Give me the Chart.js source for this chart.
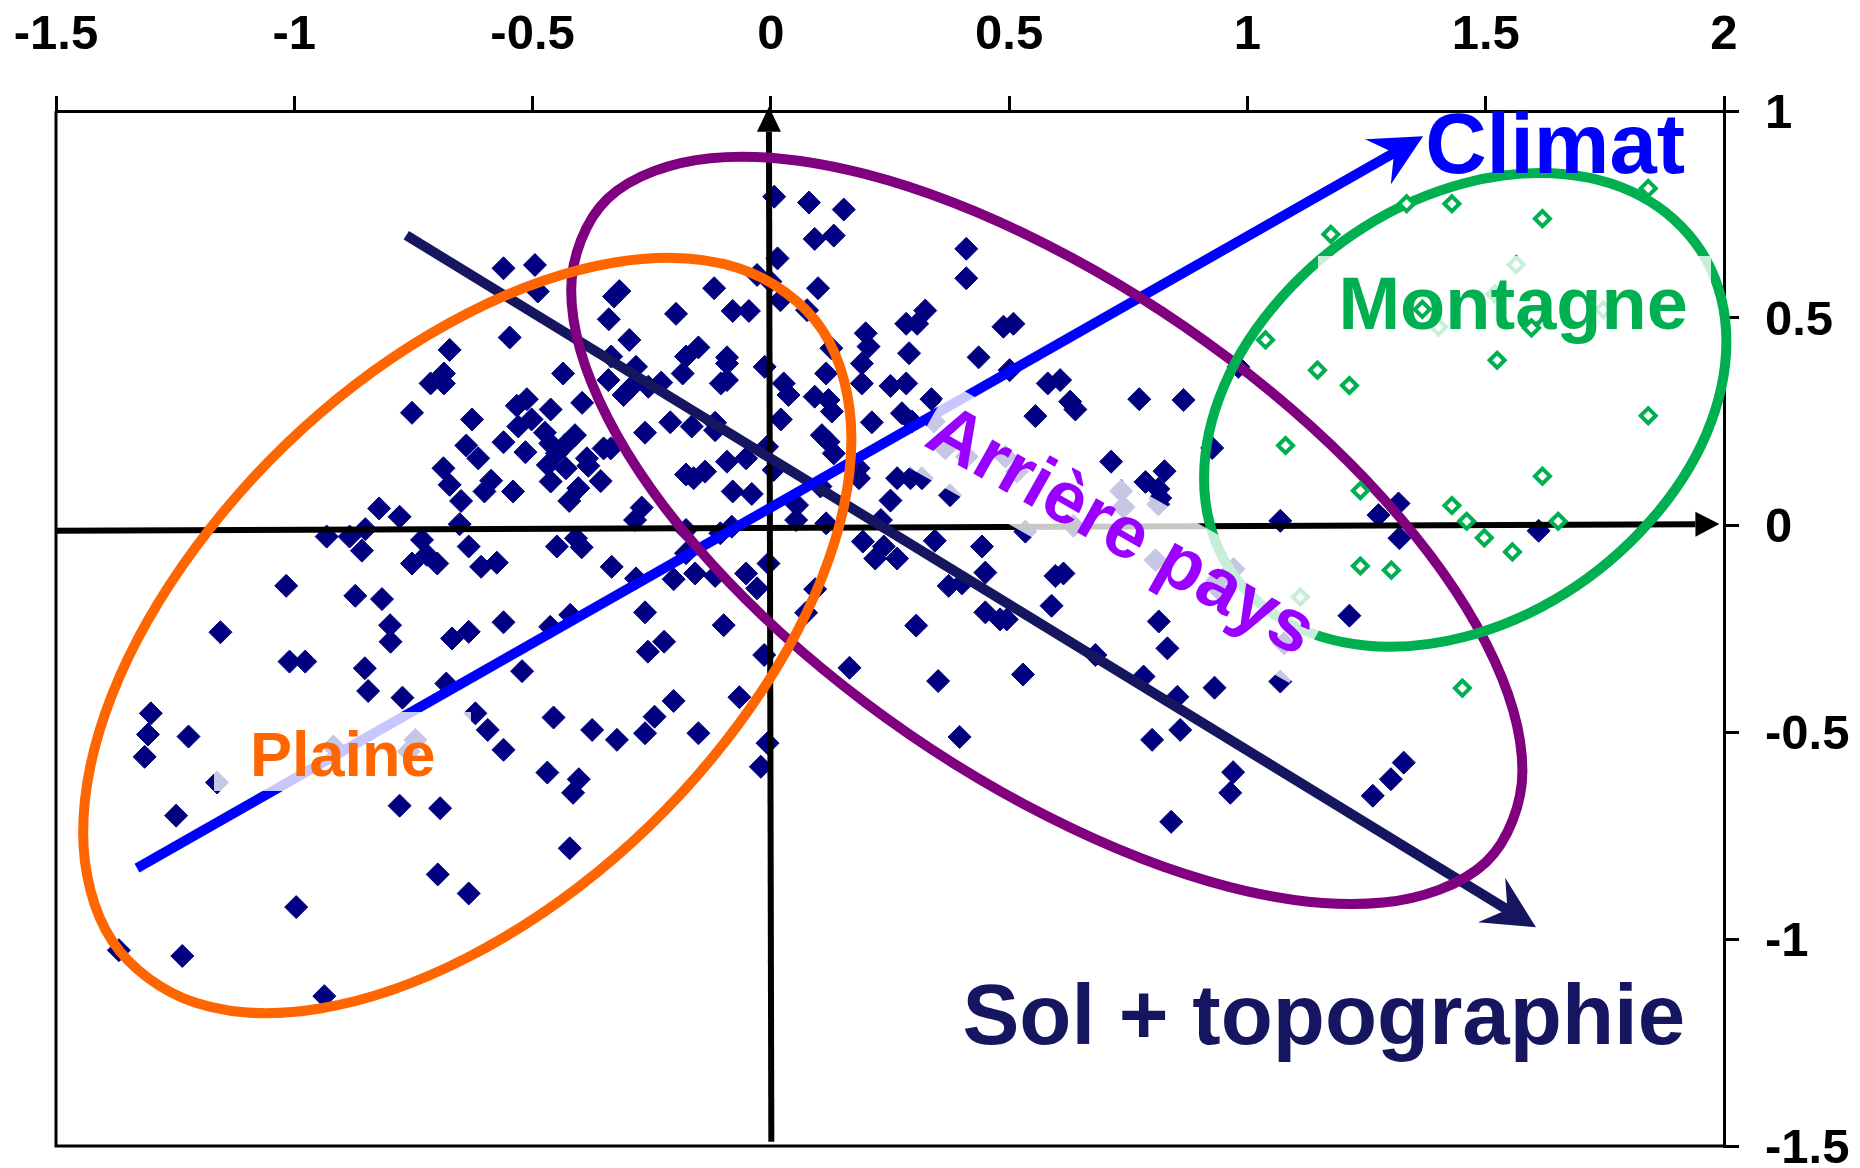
<!DOCTYPE html>
<html>
<head>
<meta charset="utf-8">
<title>Climat / Sol + topographie</title>
<script src="https://cdn.jsdelivr.net/npm/chart.js@4"></script>
<style>
    body { margin: 0; background: #fff; }
    canvas { display: block; }
</style>
</head>
<body>
<canvas id="chart" width="1860" height="1168"></canvas>
<script>
// Axis ticks
const xTicks = [-1.5, -1, -0.5, 0, 0.5, 1, 1.5, 2];
const yTicks = [1, 0.5, 0, -0.5, -1, -1.5];

// Sites (navy diamonds), [axis 1, axis 2]
const sites = [
    [-0.561,0.620],[-0.495,0.628],[-0.489,0.564],[-0.548,0.453],[-0.674,0.423],[-0.686,0.366],[-0.714,0.342],[-0.686,0.342],
    [-0.753,0.271],[-0.627,0.255],[-0.639,0.192],[-0.614,0.161],[-0.687,0.137],[-0.674,0.097],[-0.587,0.107],[-0.601,0.081],
    [-0.541,0.081],[-0.650,0.058],[-0.822,0.040],[-0.779,0.020],[-0.653,0.002],[-0.533,0.288],[-0.512,0.304],[-0.462,0.279],
    [-0.396,0.295],[-0.502,0.255],[-0.530,0.238],[-0.561,0.200],[-0.515,0.176],[-0.474,0.223],[-0.411,0.217],[-0.463,0.197],
    [-0.432,0.193],[-0.449,0.173],[-0.468,0.145],[-0.430,0.137],[-0.462,0.105],[-0.386,0.161],[-0.383,0.143],[-0.357,0.106],
    [-0.404,0.089],[-0.423,0.058],[-0.351,0.185],[-0.336,0.185],[-0.264,0.223],[-0.436,0.366],[-0.341,0.350],[-0.335,0.407],
    [-0.297,0.447],[-0.340,0.497],[-0.329,0.552],[-0.318,0.565],[-0.199,0.510],[-0.119,0.572],[-0.080,0.517],[-0.046,0.517],
    [-0.029,0.604],[-0.283,0.382],[-0.309,0.314],[-0.292,0.334],[-0.257,0.334],[-0.230,0.344],[-0.152,0.429],[-0.178,0.407],
    [-0.185,0.366],[-0.092,0.405],[-0.092,0.390],[-0.105,0.342],[-0.092,0.350],[-0.013,0.382],[-0.211,0.248],[-0.166,0.238],
    [-0.117,0.247],[-0.117,0.229],[-0.092,0.153],[-0.052,0.161],[-0.008,0.189],[0.006,0.133],[-0.178,0.122],[-0.162,0.113],
    [-0.138,0.129],[-0.080,0.081],[-0.040,0.075],[-0.271,0.042],[-0.285,0.012],[-0.178,-0.012],[-0.106,-0.020],[-0.082,-0.004],
    [-0.732,-0.036],[-0.722,-0.072],[-0.753,-0.093],[-0.700,-0.093],[-0.634,-0.052],[-0.608,-0.101],[-0.575,-0.091],[-0.449,-0.052],
    [-0.409,-0.032],[-0.397,-0.054],[-0.334,-0.101],[-0.178,-0.068],[-0.283,-0.129],[-0.204,-0.131],[-0.159,-0.117],[-0.117,-0.123],
    [-0.052,-0.117],[-0.029,-0.153],[-0.005,-0.093],[-0.264,-0.211],[-0.099,-0.242],[-0.421,-0.217],[-0.463,-0.246],[-0.561,-0.235],
    [-0.634,-0.258],[-0.669,-0.274],[-0.799,-0.242],[-0.816,-0.179],[-0.224,-0.282],[-0.258,-0.306],[-0.522,-0.353],[-0.681,-0.383],
    [-0.014,-0.314],[0.093,-0.155],[0.074,-0.212],[-0.620,-0.455],[-0.594,-0.495],[-0.561,-0.543],[-0.456,-0.465],[-0.375,-0.495],
    [-0.323,-0.519],[-0.264,-0.503],[-0.244,-0.463],[-0.204,-0.425],[-0.152,-0.503],[-0.066,-0.416],[-0.007,-0.527],[-0.021,-0.584],
    [-0.469,-0.598],[-0.403,-0.614],[-0.415,-0.647],[-0.422,-0.781],[-0.694,-0.684],[-0.699,-0.844],[-0.634,-0.890],[-0.851,-0.010],
    [-0.932,-0.028],[-0.884,-0.028],[-0.858,-0.062],[-1.017,-0.147],[-0.872,-0.171],[-0.798,-0.282],[-0.852,-0.346],[-0.845,-0.401],
    [-0.773,-0.417],[-1.155,-0.259],[-1.010,-0.330],[-0.977,-0.330],[-1.301,-0.455],[-1.307,-0.506],[-1.222,-0.511],[-1.314,-0.560],
    [-1.162,-0.622],[-1.248,-0.702],[-0.918,-0.535],[-0.746,-0.519],[-0.760,-0.547],[-0.779,-0.678],[-0.996,-0.923],[-1.368,-1.027],
    [-1.235,-1.041],[-0.937,-1.138],[0.007,0.793],[0.080,0.779],[0.153,0.762],[0.092,0.691],[0.132,0.699],[0.014,0.644],
    [0.410,0.667],[0.410,0.596],[0.099,0.572],[-0.001,0.588],[0.020,0.543],[0.076,0.519],[0.199,0.463],[0.205,0.431],
    [0.127,0.427],[0.191,0.390],[0.191,0.342],[0.116,0.366],[0.290,0.415],[0.284,0.486],[0.307,0.486],[0.324,0.518],
    [0.488,0.479],[0.509,0.486],[0.436,0.405],[0.501,0.374],[0.251,0.336],[0.284,0.342],[0.337,0.304],[0.027,0.342],
    [0.037,0.314],[0.021,0.255],[0.092,0.310],[0.121,0.302],[0.128,0.274],[0.212,0.248],[0.275,0.270],[0.296,0.250],
    [0.342,0.250],[0.366,0.185],[0.411,0.165],[0.492,0.165],[0.516,0.129],[0.555,0.263],[0.581,0.342],[0.607,0.350],
    [0.628,0.298],[0.639,0.279],[0.773,0.304],[0.866,0.302],[0.107,0.217],[0.121,0.201],[0.132,0.173],[0.184,0.137],
    [0.185,0.113],[0.265,0.113],[0.293,0.113],[0.317,0.113],[0.376,0.072],[0.251,0.059],[0.104,0.093],[0.055,0.048],
    [0.053,0.012],[0.116,0.004],[0.231,0.012],[0.193,-0.040],[0.219,-0.081],[0.237,-0.052],[0.344,-0.038],[0.443,-0.052],
    [0.534,-0.016],[0.265,-0.081],[0.714,0.153],[0.786,0.104],[0.826,0.130],[0.813,0.087],[0.817,0.065],[0.735,0.082],
    [0.740,0.043],[0.813,0.050],[0.926,0.186],[0.981,0.382],[0.807,-0.085],[0.971,-0.106],[0.635,-0.002],[0.373,-0.147],
    [0.401,-0.141],[0.450,-0.115],[0.597,-0.123],[0.614,-0.117],[0.589,-0.195],[0.450,-0.211],[0.481,-0.228],[0.495,-0.228],
    [0.305,-0.243],[0.165,-0.345],[0.351,-0.377],[0.529,-0.361],[0.681,-0.314],[0.782,-0.366],[0.396,-0.512],[0.800,-0.519],
    [0.814,-0.233],[0.832,-0.298],[0.853,-0.415],[0.931,-0.393],[1.069,-0.378],[0.859,-0.495],[0.970,-0.597],[0.964,-0.647],
    [0.840,-0.717],[1.263,-0.654],[1.301,-0.614],[1.328,-0.574],[1.214,-0.219],[1.069,0.010],[1.275,0.024],[1.317,0.052],
    [1.319,-0.032],[1.611,-0.014],[1.077,-0.286],[0.937,-0.133],[0.941,-0.157]
];

// Mountain sites (open green diamonds)
const montagneSites = [
    [1.175,0.702],[1.334,0.776],[1.429,0.776],[1.619,0.740],[1.841,0.813],[1.564,0.629],[1.401,0.478],[1.747,0.520],
    [1.519,0.558],[1.524,0.398],[1.038,0.447],[1.147,0.374],[1.214,0.337],[1.841,0.264],[1.080,0.192],[1.619,0.118],
    [1.237,0.083],[1.429,0.047],[1.460,0.009],[1.497,-0.031],[1.556,-0.065],[1.652,0.009],[1.237,-0.099],[1.302,-0.109],
    [1.111,-0.174],[1.451,-0.394]
];
// These two sit in front of the "Montagne" label
const montagneFront = [[1.367,0.521],[1.596,0.476]];

// Group outlines, read around each ellipse
const plaineOutline = [
    [0.169,0.209],[0.108,0.471],[-0.067,0.620],[-0.328,0.634],[-0.637,0.511],[-0.946,0.270],[-1.207,-0.054],[-1.382,-0.409],
    [-1.443,-0.743],[-1.382,-1.005],[-1.207,-1.154],[-0.946,-1.168],[-0.637,-1.045],[-0.328,-0.804],[-0.067,-0.480],[0.108,-0.125]
];
const arrierePaysOutline = [
    [1.577,-0.594],[1.501,-0.286],[1.285,0.064],[0.961,0.402],[0.579,0.677],[0.197,0.848],[-0.127,0.886],[-0.343,0.788],
    [-0.419,0.568],[-0.343,0.260],[-0.127,-0.090],[0.197,-0.428],[0.579,-0.703],[0.961,-0.874],[1.285,-0.912],[1.501,-0.814]
];
const montagneOutline = [
    [2.005,0.443],[1.963,0.640],[1.844,0.782],[1.667,0.847],[1.457,0.826],[1.247,0.721],[1.070,0.548],[0.951,0.336],
    [0.909,0.113],[0.951,-0.084],[1.070,-0.226],[1.247,-0.291],[1.457,-0.270],[1.667,-0.165],[1.844,0.008],[1.963,0.220]
];

// Factor arrows and drawn axes (start, end of shaft)
const climatArrow = [[-1.33,-0.829],[1.303,0.896]];
const solArrow = [[-0.765,0.700],[1.541,-0.926]];
const axisH = [[-1.5,-0.014],[1.94,0.002]];
const axisV = [[0.001,-1.49],[-0.004,0.95]];

// Labels: text and anchor in axis units
const labelTexts = ['Climat', 'Montagne', 'Plaine', 'Sol + topographie', 'Arrière pays'];
const labelX = [1.373, 1.191, -1.093, 0.402, 0.733];
const labelY = [0.850, 0.473, -0.606, -1.254, -0.020];

const FONT = '"Liberation Sans", Arial, sans-serif';

function toPoints(list) {
    return list.map(p => ({ x: p[0], y: p[1] }));
}

function outline(list, color, order) {
    // one point of lead-in and lead-out, left unpainted, so the loop closes smoothly
    const pts = [list[list.length - 1]].concat(list, [list[0], list[1]]);
    const last = pts.length - 1;
    return {
        data: toPoints(pts), showLine: true, borderColor: color, borderWidth: 10,
        tension: 0.34, pointRadius: 0, clip: false, order: order,
        segment: {
            borderColor: ctx => (ctx.p0DataIndex === 0 || ctx.p1DataIndex === last) ? 'rgba(0,0,0,0)' : color
        }
    };
}

function segment(list, color, width, order) {
    return {
        data: toPoints(list), showLine: true, borderColor: color, borderWidth: width,
        pointRadius: 0, clip: false, order: order
    };
}

// Arrowhead continuing a shaft beyond its last point
function drawHead(ctx, chart, line, color, length, half, notch) {
    const xs = chart.scales.x, ys = chart.scales.y;
    const ax = xs.getPixelForValue(line[0][0]), ay = ys.getPixelForValue(line[0][1]);
    const bx = xs.getPixelForValue(line[1][0]), by = ys.getPixelForValue(line[1][1]);
    ctx.save();
    ctx.translate(bx, by);
    ctx.rotate(Math.atan2(by - ay, bx - ax));
    ctx.fillStyle = color;
    ctx.beginPath();
    ctx.moveTo(notch, 0);
    ctx.lineTo(notch - length, -half);
    ctx.lineTo(-1, -5);
    ctx.lineTo(-1, 5);
    ctx.lineTo(notch - length, half);
    ctx.closePath();
    ctx.fill();
    ctx.restore();
}

function drawTriangle(ctx, chart, line, length, half) {
    const xs = chart.scales.x, ys = chart.scales.y;
    const ax = xs.getPixelForValue(line[0][0]), ay = ys.getPixelForValue(line[0][1]);
    const bx = xs.getPixelForValue(line[1][0]), by = ys.getPixelForValue(line[1][1]);
    ctx.save();
    ctx.translate(bx, by);
    ctx.rotate(Math.atan2(by - ay, bx - ax));
    ctx.fillStyle = '#000';
    ctx.beginPath();
    ctx.moveTo(length, 0);
    ctx.lineTo(0, -half);
    ctx.lineTo(0, half);
    ctx.closePath();
    ctx.fill();
    ctx.restore();
}

// Left and bottom side of the frame
const framePlugin = {
    id: 'frame',
    beforeDatasetsDraw(chart) {
        const ctx = chart.ctx, a = chart.chartArea;
        ctx.save();
        ctx.strokeStyle = '#000';
        ctx.lineWidth = 3;
        ctx.beginPath();
        ctx.moveTo(a.left, a.top);
        ctx.lineTo(a.left, a.bottom);
        ctx.lineTo(a.right, a.bottom);
        ctx.stroke();
        ctx.restore();
    }
};

// Arrowheads, the pale boxes behind the labels, then the labels
const labelsPlugin = {
    id: 'labels',
    afterDatasetsDraw(chart) {
        const ctx = chart.ctx, xs = chart.scales.x, ys = chart.scales.y;
        const tilt = 29.5 * Math.PI / 180;

        drawHead(ctx, chart, climatArrow, '#0000ff', 52, 26, 36);
        drawHead(ctx, chart, solArrow, '#151560', 52, 26, 36);
        drawTriangle(ctx, chart, axisH, 24, 12.5);
        drawTriangle(ctx, chart, axisV, 25, 12);

        ctx.save();
        ctx.fillStyle = 'rgba(255,255,255,0.78)';
        // Plaine
        ctx.fillRect(214, 712, 257, 79);
        // Montagne
        ctx.fillRect(1318, 256, 393, 85);
        // Arrière pays, tilted with its text
        ctx.translate(xs.getPixelForValue(labelX[4]), ys.getPixelForValue(labelY[4]));
        ctx.rotate(tilt);
        ctx.fillRect(-221, -47, 442, 94);
        ctx.restore();

        const styles = [
            ['#0000ff', 85], ['#00b050', 74], ['#ff6600', 63], ['#151560', 85.3], ['#9900ff', 74]
        ];
        labelTexts.forEach(function(text, i) {
            const px = xs.getPixelForValue(labelX[i]), py = ys.getPixelForValue(labelY[i]);
            ctx.save();
            ctx.fillStyle = styles[i][0];
            ctx.font = 'bold ' + styles[i][1] + 'px ' + FONT;
            if (i === 4) {
                ctx.translate(px, py);
                ctx.rotate(tilt);
                ctx.textAlign = 'center';
                ctx.textBaseline = 'middle';
                ctx.fillText(text, 0, 0);
            } else {
                ctx.textBaseline = 'alphabetic';
                ctx.fillText(text, px, py);
            }
            ctx.restore();
        });

        // front points go over the Montagne label
        chart.getDatasetMeta(1).data.forEach(el => el.draw(ctx));
    }
};

new Chart(document.getElementById('chart'), {
    type: 'scatter',
    data: {
        datasets: [
            {
                data: toPoints(montagneSites), pointStyle: 'rectRot', pointRadius: 7.5, pointBorderWidth: 4,
                pointBorderColor: '#00b050', pointBackgroundColor: '#fff', clip: false, order: 0
            },
            {
                data: toPoints(montagneFront), pointStyle: 'rectRot', pointRadius: 7.5, pointBorderWidth: 4,
                pointBorderColor: '#00b050', pointBackgroundColor: '#fff', clip: false, order: 0
            },
            outline(plaineOutline, '#ff6600', 1),
            outline(montagneOutline, '#00b050', 2),
            outline(arrierePaysOutline, '#800080', 3),
            segment(climatArrow, '#0000ff', 10, 4),
            segment(solArrow, '#151560', 10, 5),
            segment(axisH, '#000', 6, 6),
            segment(axisV, '#000', 6, 6),
            {
                data: toPoints(sites), pointStyle: 'rectRot', pointRadius: 11.5, pointBorderWidth: 1,
                pointBorderColor: '#000080', pointBackgroundColor: '#000080', clip: false, order: 7
            }
        ]
    },
    options: {
        responsive: false,
        animation: false,
        layout: { padding: { left: 56, bottom: 22 } },
        elements: { line: { capBezierPoints: false } },
        plugins: { legend: { display: false }, tooltip: { enabled: false } },
        scales: {
            x: {
                position: 'top',
                min: xTicks[0],
                max: xTicks[xTicks.length - 1],
                afterBuildTicks(scale) { scale.ticks = xTicks.map(v => ({ value: v })); },
                afterFit(scale) { scale.height = 111; scale.paddingLeft = 0; scale.paddingRight = 0; },
                grid: { drawOnChartArea: false, color: '#000', lineWidth: 3, tickLength: 15, tickColor: '#000' },
                border: { color: '#000', width: 3 },
                ticks: {
                    color: '#000', padding: 36, maxRotation: 0, autoSkip: false,
                    font: { family: FONT, size: 49, weight: 'bold', lineHeight: 1 },
                    callback: v => String(v)
                }
            },
            y: {
                position: 'right',
                min: yTicks[yTicks.length - 1],
                max: yTicks[0],
                afterBuildTicks(scale) { scale.ticks = yTicks.map(v => ({ value: v })); },
                afterFit(scale) { scale.width = 136; scale.paddingTop = 0; scale.paddingBottom = 0; },
                grid: { drawOnChartArea: false, color: '#000', lineWidth: 3, tickLength: 15, tickColor: '#000' },
                border: { color: '#000', width: 3 },
                ticks: {
                    color: '#000', padding: 26, autoSkip: false, labelOffset: 3,
                    font: { family: FONT, size: 49, weight: 'bold', lineHeight: 1 },
                    callback: v => String(v)
                }
            }
        }
    },
    plugins: [framePlugin, labelsPlugin]
});
</script>
</body>
</html>
